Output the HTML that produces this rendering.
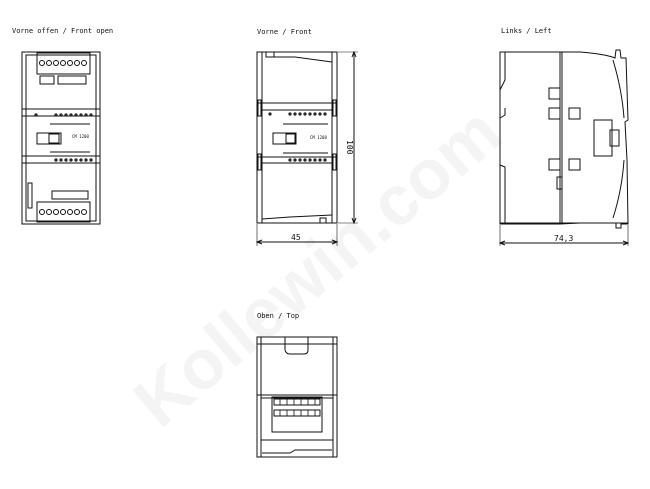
<!DOCTYPE html>
<html><head><style>
body{margin:0;background:#fff;}
svg{display:block;}
text{font-family:"DejaVu Sans Mono","Liberation Mono",monospace;fill:#111;}
</style></head><body>
<svg width="650" height="489" viewBox="0 0 650 489" xmlns="http://www.w3.org/2000/svg" stroke="#111" fill="none" stroke-width="1">
<!-- watermark -->
<g stroke="none">
<text x="160" y="430" font-size="70" transform="rotate(-40 160 430)" style="fill:#f4f4f4;font-family:'Liberation Sans',sans-serif;font-weight:bold">Kollewin.com</text>
</g>
<g stroke="none" font-size="7">
<text x="12" y="33">Vorne offen / Front open</text>
<text x="257" y="34">Vorne / Front</text>
<text x="501" y="33">Links / Left</text>
<text x="257" y="318">Oben / Top</text>
</g>
<!-- Front open -->
<rect x="22" y="52" width="78" height="172"/>
<rect x="26" y="55" width="70" height="166"/>
<rect x="37" y="53" width="53" height="21"/>
<g>
<circle cx="42" cy="63" r="2.5"/><circle cx="49" cy="63" r="2.5"/><circle cx="56" cy="63" r="2.5"/><circle cx="63" cy="63" r="2.5"/><circle cx="70" cy="63" r="2.5"/><circle cx="77" cy="63" r="2.5"/><circle cx="84" cy="63" r="2.5"/>
</g>
<rect x="40" y="76" width="14" height="8"/><rect x="58" y="76" width="28" height="8"/>
<line x1="22" y1="109" x2="100" y2="109"/><line x1="22" y1="116" x2="100" y2="116"/>
<g stroke-width="1.2">
<circle cx="36" cy="115" r="1"/><circle cx="56" cy="115" r="1"/><circle cx="61" cy="115" r="1"/><circle cx="66" cy="115" r="1"/><circle cx="71" cy="115" r="1"/><circle cx="76" cy="115" r="1"/><circle cx="81" cy="115" r="1"/><circle cx="86" cy="115" r="1"/><circle cx="91" cy="115" r="1"/>
</g>
<line x1="50" y1="124" x2="90" y2="124"/>
<rect x="37" y="133" width="24" height="11" /><rect x="49" y="134" width="10" height="9"/>
<text x="72" y="138" font-size="4" stroke="none">CM 1200</text>
<line x1="50" y1="152" x2="90" y2="152"/>
<line x1="22" y1="156" x2="100" y2="156"/><line x1="22" y1="163" x2="100" y2="163"/>
<g stroke-width="1.2">
<circle cx="56" cy="160" r="1"/><circle cx="61" cy="160" r="1"/><circle cx="66" cy="160" r="1"/><circle cx="71" cy="160" r="1"/><circle cx="76" cy="160" r="1"/><circle cx="81" cy="160" r="1"/><circle cx="86" cy="160" r="1"/><circle cx="91" cy="160" r="1"/>
</g>
<rect x="28" y="183" width="4" height="25"/>
<rect x="52" y="191" width="36" height="8"/>
<rect x="37" y="202" width="53" height="20"/>
<circle cx="42" cy="212" r="2.5"/><circle cx="49" cy="212" r="2.5"/><circle cx="56" cy="212" r="2.5"/><circle cx="63" cy="212" r="2.5"/><circle cx="70" cy="212" r="2.5"/><circle cx="77" cy="212" r="2.5"/><circle cx="84" cy="212" r="2.5"/>
<!-- Front -->
<rect x="257" y="52" width="80" height="171"/>
<line x1="262" y1="52" x2="262" y2="223"/><line x1="332" y1="52" x2="332" y2="223"/>
<rect x="266" y="52" width="8" height="5"/>
<path d="M274 57 L295 57 L332 62"/>
<path d="M262 219 L290 217 L332 215"/>
<rect x="320" y="218" width="6" height="5"/>
<line x1="257" y1="103" x2="337" y2="103"/><line x1="262" y1="110" x2="332" y2="110"/>
<rect x="258" y="100" width="3" height="16"/><rect x="333" y="100" width="3" height="16"/>
<g stroke-width="1.2">
<circle cx="270" cy="114" r="1"/><circle cx="290" cy="114" r="1"/><circle cx="295" cy="114" r="1"/><circle cx="300" cy="114" r="1"/><circle cx="305" cy="114" r="1"/><circle cx="310" cy="114" r="1"/><circle cx="315" cy="114" r="1"/><circle cx="320" cy="114" r="1"/><circle cx="325" cy="114" r="1"/>
</g>
<line x1="283" y1="124" x2="328" y2="124"/>
<rect x="273" y="133" width="23" height="11"/><rect x="286" y="134" width="9" height="9"/>
<text x="310" y="139" font-size="4" stroke="none">CM 1200</text>
<line x1="283" y1="153" x2="328" y2="153"/>
<line x1="257" y1="157" x2="337" y2="157"/><line x1="262" y1="163" x2="332" y2="163"/>
<rect x="258" y="154" width="3" height="16"/><rect x="333" y="154" width="3" height="16"/>
<g stroke-width="1.2">
<circle cx="290" cy="160" r="1"/><circle cx="295" cy="160" r="1"/><circle cx="300" cy="160" r="1"/><circle cx="305" cy="160" r="1"/><circle cx="310" cy="160" r="1"/><circle cx="315" cy="160" r="1"/><circle cx="320" cy="160" r="1"/><circle cx="325" cy="160" r="1"/>
</g>
<line x1="338" y1="52" x2="358" y2="52" stroke-width=".6"/><line x1="338" y1="223" x2="358" y2="223" stroke-width=".6"/>
<line x1="354" y1="52" x2="354" y2="223"/>
<path d="M352 57 L354 52 L356 57 M352 218 L354 223 L356 218"/>
<text x="0" y="0" font-size="8" stroke="none" transform="translate(347 140) rotate(90)">100</text>
<line x1="257" y1="224" x2="257" y2="246" stroke-width=".6"/><line x1="337" y1="224" x2="337" y2="246" stroke-width=".6"/>
<line x1="257" y1="242" x2="337" y2="242"/>
<path d="M262 240 L257 242 L262 244 M332 240 L337 242 L332 244"/>
<text x="291" y="240" font-size="8" stroke="none">45</text>
<!-- Left -->
<path d="M500 52 L560 52 L580 52 Q605 54 615 58 L616 50 L620 50 L621 58 L626 58 L628 120 L625 122 L627 160 L628 224 L621 224 L621 228 L616 228 L616 223 L580 223 L560 224 L500 224 Z"/>
<line x1="560" y1="52" x2="560" y2="224"/><line x1="562" y1="52" x2="562" y2="224"/>
<path d="M505 52 L505 80 L500 90 M505 108 L505 115 L500 118 M500 165 L505 167 L505 224"/>
<line x1="500" y1="223" x2="628" y2="223"/>
<rect x="549" y="88" width="11" height="11"/><rect x="569" y="108" width="11" height="11"/><rect x="549" y="108" width="11" height="11"/>
<rect x="549" y="159" width="11" height="11"/><rect x="569" y="159" width="11" height="11"/>
<rect x="557" y="177" width="5" height="12"/>
<rect x="594" y="120" width="18" height="36"/><rect x="610" y="130" width="9" height="16"/>
<path d="M613 60 Q622 90 624 118 M613 218 Q622 190 624 160"/>
<line x1="500" y1="225" x2="500" y2="246" stroke-width=".6"/><line x1="628" y1="225" x2="628" y2="246" stroke-width=".6"/>
<line x1="500" y1="243" x2="628" y2="243"/>
<path d="M505 241 L500 243 L505 245 M623 241 L628 243 L623 245"/>
<text x="554" y="241" font-size="8" stroke="none">74,3</text>
<!-- Top -->
<rect x="257" y="337" width="80" height="120"/>
<line x1="261" y1="337" x2="261" y2="457"/><line x1="333" y1="337" x2="333" y2="457"/>
<line x1="257" y1="344" x2="337" y2="344"/>
<path d="M285 337 L285 350 Q286 354 290 354 L304 354 Q308 354 308 350 L308 337"/>
<line x1="257" y1="395" x2="337" y2="395"/><line x1="261" y1="398" x2="333" y2="398"/>
<rect x="272" y="397" width="50" height="35"/>
<rect x="274" y="399" width="46" height="6"/><rect x="274" y="410" width="46" height="6"/>
<g stroke-width=".8">
<line x1="280" y1="399" x2="280" y2="405"/><line x1="287" y1="399" x2="287" y2="405"/><line x1="294" y1="399" x2="294" y2="405"/><line x1="301" y1="399" x2="301" y2="405"/><line x1="308" y1="399" x2="308" y2="405"/><line x1="315" y1="399" x2="315" y2="405"/>
<line x1="280" y1="410" x2="280" y2="416"/><line x1="287" y1="410" x2="287" y2="416"/><line x1="294" y1="410" x2="294" y2="416"/><line x1="301" y1="410" x2="301" y2="416"/><line x1="308" y1="410" x2="308" y2="416"/><line x1="315" y1="410" x2="315" y2="416"/>
</g>
<line x1="261" y1="440" x2="333" y2="440"/>
<path d="M262 453 L290 453 L295 450 L332 450"/>
</svg>
</body></html>
